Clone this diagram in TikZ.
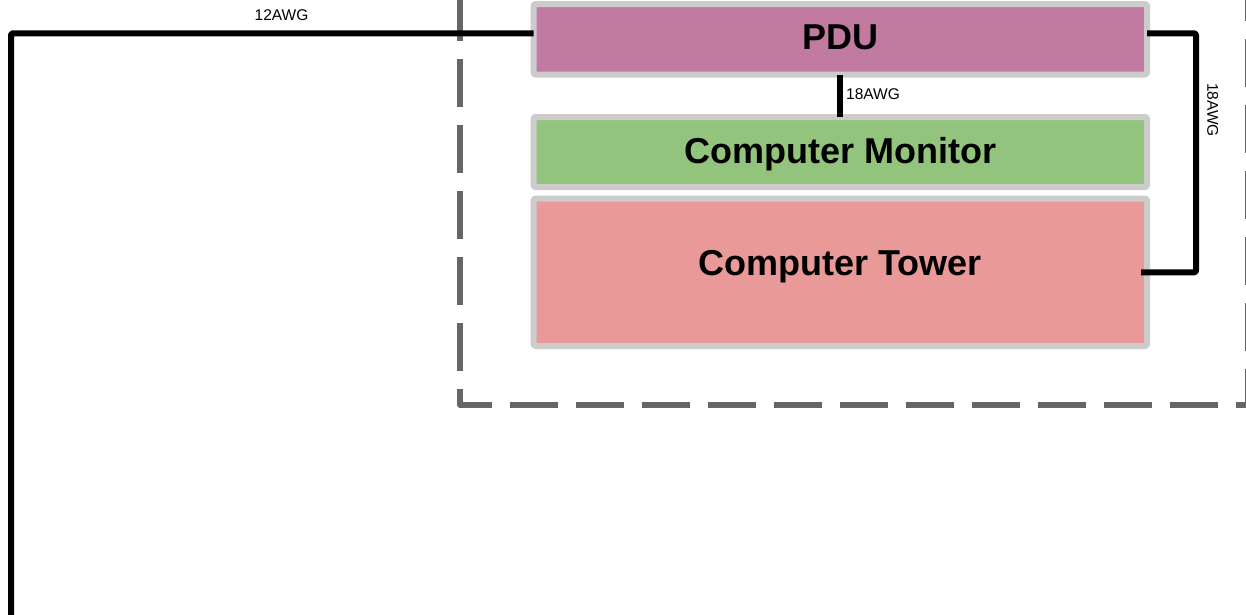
\documentclass[tikz,border=0pt]{standalone}
\usepackage{fontspec}
\setmainfont{Liberation Sans}
\usepackage{tikz}
\usetikzlibrary{positioning}
\definecolor{c27baq}{HTML}{C27BA0}
\definecolor{93c47d}{HTML}{93C47D}
\definecolor{ea9999}{HTML}{EA9999}
\definecolor{cccccc}{HTML}{CCCCCC}
\definecolor{666666}{HTML}{666666}
\tikzstyle{every node}=[font=\fontsize{15.5}{18}\selectfont]

\begin{document}
\begin{tikzpicture}[line cap=butt,line join=round,x=1pt,y=-1pt,
    unit/.style={draw=cccccc,line width=6pt,rounded corners=2pt,minimum width=613.5pt,
      inner sep=0pt,outer sep=0pt,text height=25.8pt,font=\fontsize{36}{40}\selectfont\bfseries},
    awg/.style={line width=6pt,rounded corners=2pt},
    gauge/.style={inner sep=0pt,text height=11.1pt,text depth=0pt}]
            \useasboundingbox (0,0) rectangle (1246,614);
            \clip (0,0) rectangle (1246,614);
            % desk enclosure
            \draw [color=666666,line width=5.3pt,dash pattern=on 48pt off 18pt] (460,-73) -- (460,405) -- (1248,405) -- (1248,-80);

            \node [unit,fill=c27baq,minimum height=70.5pt,text depth=4.5pt] (pdu) at (840.25,39.25) {PDU};
            \node [unit,fill=93c47d,minimum height=70pt,text depth=2pt,below=42.5pt of pdu] (mon) {Computer Monitor};
            \node [unit,fill=ea9999,minimum height=147.3pt,text depth=18.7pt,below=11.7pt of mon] (tow) {Computer Tower};

            \draw [awg] ([yshift=6pt]pdu.west) -- (11,33.25) -- (11,640);
            \draw [awg] (pdu.south) -- (mon.north);
            \draw [awg] ([yshift=6pt]pdu.east) -| ([xshift=49pt]tow.east) -- ([xshift=-6pt]tow.east);

            \node [gauge] (g12) at (281.5,14.7) {12AWG};
            \node [gauge,anchor=west] (g18m) at (846,93.5) {18AWG};
            \node [gauge,rotate=-90] (g18t) at (1213,110) {18AWG};
            \end{tikzpicture}
\end{document}
